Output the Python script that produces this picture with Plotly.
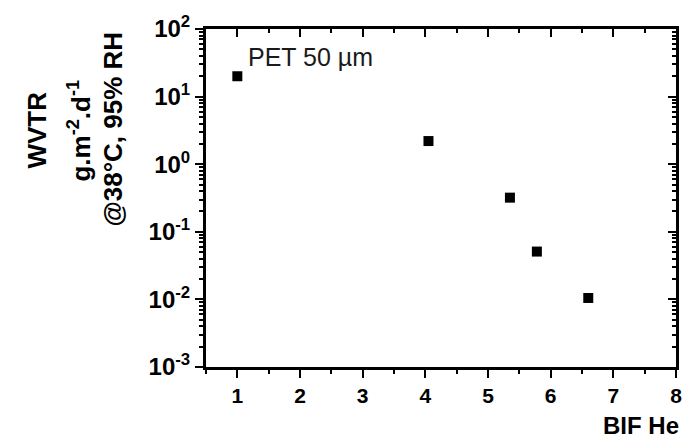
import plotly.graph_objects as go

# BIF (He) vs. water vapour transmission rate
bif_he = [1.0, 4.05, 5.35, 5.78, 6.6]
wvtr = [20, 2.2, 0.32, 0.051, 0.0105]

x_ticks = [1, 2, 3, 4, 5, 6, 7, 8]
y_ticks = [-3, -2, -1, 0, 1, 2]
y_ticktext = [f"10<sup>{e}</sup>" for e in y_ticks]

FONT = "Liberation Sans"
W, H = 694, 443
L, R, T, B = 206, 18, 21, 76
PW, PH = W - L - R, H - T - B


def px(xp):
    return (xp - L) / PW


def py(yp):
    return (H - B - yp) / PH


y_major = [10.0 ** e for e in y_ticks]
y_minor = [m * 10.0 ** e for e in y_ticks[:-1] for m in range(2, 10)]
x_minor = [v + 0.5 for v in [0] + x_ticks[:-1]]

fig = go.Figure()
fig.add_trace(go.Scatter(
    x=bif_he, y=wvtr, mode="markers",
    marker=dict(symbol="square", size=10, color="black"),
    showlegend=False, hoverinfo="x+y",
))
# same points on the mirrored axes so the top/right frame is drawn
fig.add_trace(go.Scatter(
    x=bif_he, y=wvtr, mode="markers", xaxis="x2", yaxis="y2",
    marker=dict(symbol="square", size=10, color="rgba(0,0,0,0)"),
    showlegend=False, hoverinfo="skip",
))

axis_common = dict(showline=True, linecolor="black", linewidth=3,
                   showgrid=False, zeroline=False, tickcolor="black", tickwidth=2)

fig.update_layout(
    width=W, height=H,
    margin=dict(l=L, r=R, t=T, b=B),
    paper_bgcolor="white", plot_bgcolor="white",
    xaxis=dict(range=[0.5, 8], tickvals=x_ticks, ticks="outside", ticklen=8,
               minor=dict(tickvals=x_minor, ticks="outside", ticklen=4,
                          tickcolor="black", tickwidth=2),
               tickfont=dict(family=FONT, size=21, color="black", weight="bold"),
               **axis_common),
    yaxis=dict(type="log", range=[-3, 2], tickvals=y_major, ticktext=y_ticktext,
               ticks="outside", ticklen=8,
               minor=dict(tickvals=y_minor, ticks="outside", ticklen=4,
                          tickcolor="black", tickwidth=2),
               tickfont=dict(family=FONT, size=24, color="black", weight="bold"),
               **axis_common),
    xaxis2=dict(overlaying="x", side="top", range=[0.5, 8], tickvals=x_ticks,
                ticks="inside", ticklen=8, showticklabels=False,
                minor=dict(tickvals=x_minor, ticks="inside", ticklen=4,
                           tickcolor="black", tickwidth=2),
                **axis_common),
    yaxis2=dict(overlaying="y", side="right", type="log", range=[-3, 2],
                tickvals=y_major, ticks="inside", ticklen=8, showticklabels=False,
                minor=dict(tickvals=y_minor, ticks="inside", ticklen=4,
                           tickcolor="black", tickwidth=2),
                **axis_common),
)

title_font = dict(family=FONT, size=26, color="black", weight="bold")
annotations = [
    dict(text="WVTR", x=px(37), y=py(125)),
    dict(text="g.m<sup>-2</sup>.d<sup>-1</sup>", x=px(80), y=py(125)),
    dict(text="@38°C, 95% RH", x=px(113), y=py(124)),
]
for a in annotations:
    fig.add_annotation(xref="paper", yref="paper", textangle=-90,
                       xanchor="center", yanchor="middle", showarrow=False,
                       font=title_font, **a)

fig.add_annotation(text="BIF He", xref="paper", yref="paper",
                   x=px(681), y=py(427), xanchor="right", yanchor="middle",
                   showarrow=False,
                   font=dict(family=FONT, size=24, color="black", weight="bold"))

fig.add_annotation(text="PET 50 µm", xref="paper", yref="paper",
                   x=px(246), y=py(50), xanchor="left", yanchor="middle",
                   showarrow=False,
                   font=dict(family=FONT, size=25, color="#1a1a1a"))

fig.write_html("out.html")
